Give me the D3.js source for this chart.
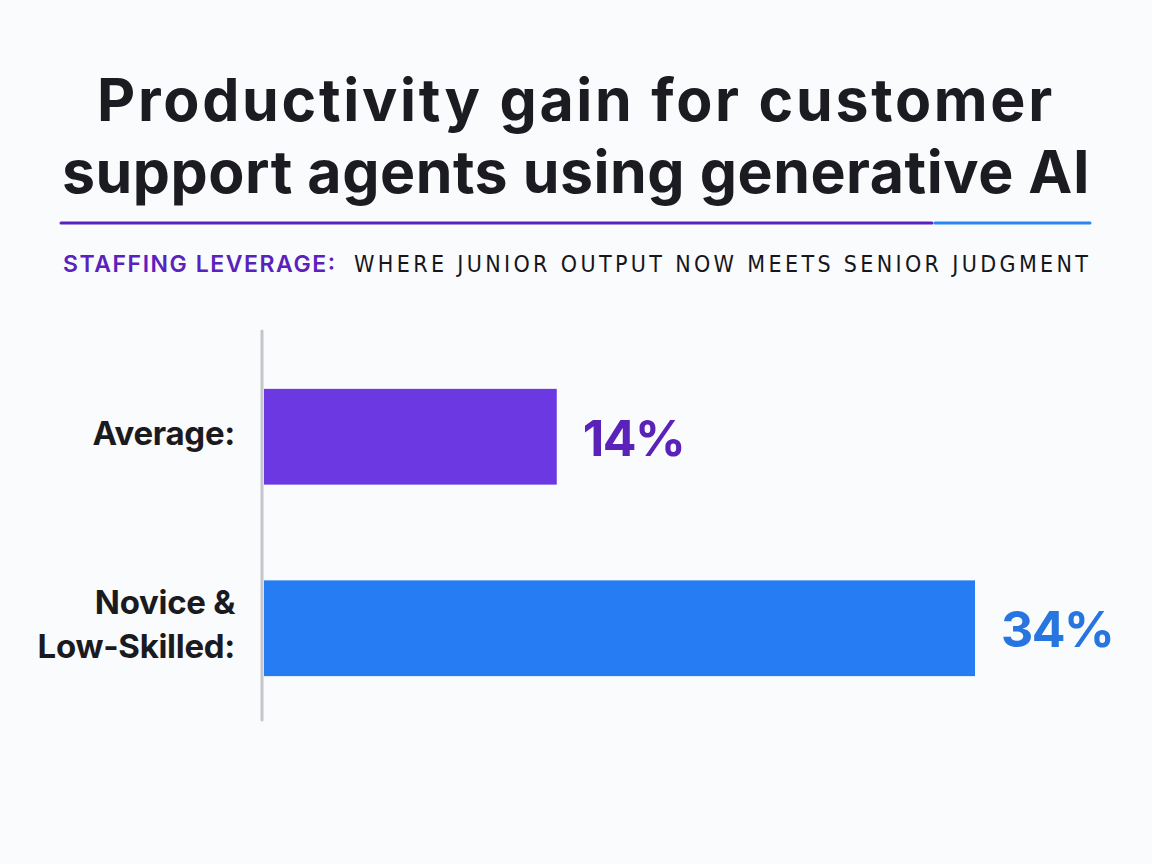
<!DOCTYPE html>
<html>
<head>
<meta charset="utf-8">
<script src="https://cdn.jsdelivr.net/npm/d3@7"></script>
<style>
  html, body { margin: 0; padding: 0; background: #fafbfc; }
  svg { display: block; }
</style>
</head>
<body>
<svg id="chart" width="1152" height="864"></svg>
<script>
const titleLines = ["Productivity gain for customer", "support agents using generative AI"];
const subtitleLead = "STAFFING LEVERAGE:";
const subtitleRest = "WHERE JUNIOR OUTPUT NOW MEETS SENIOR JUDGMENT";
const categories = ["Average", "Novice"];
const categoryLabels = [["Average:"], ["Novice &", "Low-Skilled:"]];
const values = [14, 34];
const valueLabels = ["14%", "34%"];
const barColors = ["#6b38e2", "#257cf3"];
const valueColors = ["#5a22b8", "#2776e0"];

const svg = d3.select("#chart");
svg.append("rect").attr("width", 1152).attr("height", 864).attr("fill", "#fafbfc");

// Title (one text element, two lines)
const titleFont = "Inter, 'Noto Sans', sans-serif";
const titleSize = 59;
const titleTargets = [958, 1028];
const titleBaselines = [121, 193];
const title = svg.append("text")
  .attr("text-anchor", "middle")
  .attr("font-family", titleFont)
  .attr("font-weight", 700)
  .attr("font-size", titleSize)
  .attr("fill", "#1b1b21");
titleLines.forEach((t, i) => {
  const ts = title.append("tspan").attr("x", 576).attr("y", titleBaselines[i]).text(t);
  const w = ts.node().getComputedTextLength();
  const ls = (titleTargets[i] - w) / t.length;
  ts.attr("letter-spacing", ls + "px");
});

// Rule
svg.append("line").attr("x1", 61).attr("x2", 932).attr("y1", 223).attr("y2", 223)
  .attr("stroke", "#5b22c0").attr("stroke-width", 3).attr("stroke-linecap", "round");
svg.append("line").attr("x1", 935).attr("x2", 1090).attr("y1", 223).attr("y2", 223)
  .attr("stroke", "#2a86f0").attr("stroke-width", 3).attr("stroke-linecap", "round");

// Subtitle
const sub = svg.append("text").attr("y", 272).attr("font-size", 23);
sub.append("tspan")
  .attr("x", 63)
  .attr("font-family", "Inter, 'Noto Sans', sans-serif")
  .attr("font-weight", 600)
  .attr("fill", "#5a22bc")
  .attr("textLength", 272).attr("lengthAdjust", "spacing")
  .text(subtitleLead);
sub.append("tspan")
  .attr("x", 354)
  .attr("font-family", "'DejaVu Sans Condensed', 'Liberation Sans Narrow', sans-serif")
  .attr("fill", "#16161c")
  .attr("textLength", 734).attr("lengthAdjust", "spacing")
  .text(subtitleRest);

// Scales
const x = d3.scaleLinear().domain([0, 34]).range([264, 975]);
const y = d3.scaleBand().domain(categories).range([341, 724]).paddingInner(0.5).paddingOuter(0.25);

// Axis line
svg.append("line").attr("x1", 262).attr("x2", 262).attr("y1", 331).attr("y2", 720)
  .attr("stroke", "#c3c6cc").attr("stroke-width", 3).attr("stroke-linecap", "round");

// Bars
svg.selectAll("rect.bar").data(categories).enter().append("rect")
  .attr("class", "bar")
  .attr("x", x(0))
  .attr("y", d => y(d))
  .attr("width", (d, i) => x(values[i]) - x(0))
  .attr("height", y.bandwidth())
  .attr("fill", (d, i) => barColors[i]);

// Category labels
categories.forEach((c, i) => {
  const lines = categoryLabels[i];
  const cy = y(c) + y.bandwidth() / 2;
  const lh = 44;
  lines.forEach((l, j) => {
    svg.append("text")
      .attr("x", 235)
      .attr("y", cy + (j - (lines.length - 1) / 2) * lh + 8)
      .attr("text-anchor", "end")
      .attr("font-family", "Inter, 'Noto Sans', sans-serif")
      .attr("font-weight", 700)
      .attr("font-size", 33)
      .attr("fill", "#1a1a20")
      .attr("letter-spacing", "-0.3px")
      .text(l);
  });
});

// Value labels
categories.forEach((c, i) => {
  svg.append("text")
    .attr("x", x(values[i]) + 26)
    .attr("y", y(c) + y.bandwidth() / 2 + 19)
    .attr("font-family", "Inter, 'Noto Sans', sans-serif")
    .attr("font-weight", 700)
    .attr("font-size", 50)
    .attr("fill", valueColors[i])
    .attr("letter-spacing", "-1.5px")
    .text(valueLabels[i]);
});
</script>
</body>
</html>
